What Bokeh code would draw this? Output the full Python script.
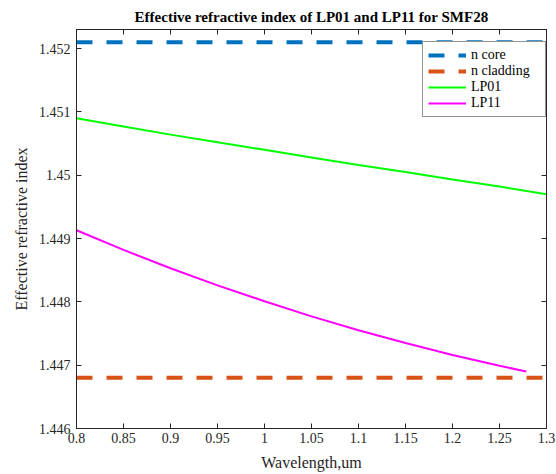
from bokeh.plotting import figure
from bokeh.models import Range1d, FixedTicker, LinearAxis, Legend, LegendItem
from bokeh.embed import file_html
from bokeh.resources import INLINE

# ---- data ----
wl_span = [0.8, 1.3]
n_core = 1.4521
n_clad = 1.4468

wl_lp01 = [0.8, 0.85, 0.9, 0.95, 1.0, 1.05, 1.1, 1.15, 1.2, 1.25, 1.3]
n_lp01 = [1.45090, 1.45077, 1.45064, 1.45052, 1.45040, 1.45028, 1.45016,
          1.45005, 1.44993, 1.44982, 1.44970]

wl_lp11 = [0.8, 0.85, 0.9, 0.95, 1.0, 1.05, 1.1, 1.15, 1.2, 1.25, 1.2785]
n_lp11 = [1.44913, 1.44882, 1.44853, 1.44826, 1.44801, 1.44777, 1.44755,
          1.44735, 1.44716, 1.44699, 1.44690]

x_ticks = [0.8, 0.85, 0.9, 0.95, 1.0, 1.05, 1.1, 1.15, 1.2, 1.25, 1.3]
x_tick_labels = ["0.8", "0.85", "0.9", "0.95", "1", "1.05", "1.1", "1.15", "1.2", "1.25", "1.3"]
y_ticks = [1.446, 1.447, 1.448, 1.449, 1.45, 1.451, 1.452]
y_tick_labels = ["1.446", "1.447", "1.448", "1.449", "1.45", "1.451", "1.452"]

title_text = "Effective refractive index of LP01 and LP11 for SMF28"
x_label = "Wavelength,um"
y_label = "Effective refractive index"
series_names = ["n core", "n cladding", "LP01", "LP11"]

# ---- styling ----
FONT = "Liberation Serif"
AX = "#262626"
C_CORE = "#0072BD"
C_CLAD = "#D95319"
C_LP01 = "#00FF00"
C_LP11 = "#FF00FF"

p = figure(width=556, height=474, output_backend="svg", toolbar_location=None,
           x_range=Range1d(0.8, 1.3), y_range=Range1d(1.446, 1.4523),
           min_border_left=76, min_border_right=10, min_border_top=29,
           min_border_bottom=46, title=title_text)
p.background_fill_color = "white"
p.border_fill_color = "white"
p.outline_line_color = AX
p.outline_line_width = 1
p.grid.visible = False

p.title.text_font = FONT
p.title.text_font_size = "15px"
p.title.text_font_style = "bold"
p.title.text_color = "black"
p.title.align = "center"

def style_axis(ax, show_labels, ticks, labels):
    ax.ticker = FixedTicker(ticks=ticks)
    ax.major_label_overrides = {t: l for t, l in zip(ticks, labels)}
    ax.major_tick_in = 5
    ax.major_tick_out = 0
    ax.minor_tick_in = 0
    ax.minor_tick_out = 0
    ax.axis_line_color = AX
    ax.major_tick_line_color = AX
    ax.major_label_text_font = FONT
    ax.major_label_text_font_size = "14px"
    ax.major_label_text_color = AX
    ax.axis_label_text_font = FONT
    ax.axis_label_text_font_size = "16px"
    ax.axis_label_text_font_style = "normal"
    ax.axis_label_text_color = AX
    if not show_labels:
        ax.major_label_text_font_size = "0px"
        ax.major_label_text_alpha = 0
        ax.major_label_standoff = 0

style_axis(p.xaxis[0], True, x_ticks, x_tick_labels)
style_axis(p.yaxis[0], True, y_ticks, y_tick_labels)
p.xaxis[0].axis_label = x_label
p.yaxis[0].axis_label = y_label
p.xaxis[0].major_label_standoff = 4
p.yaxis[0].major_label_standoff = 6
p.xaxis[0].axis_label_standoff = 8
p.yaxis[0].axis_label_standoff = 6

top_ax = LinearAxis()
right_ax = LinearAxis()
style_axis(top_ax, False, x_ticks, x_tick_labels)
style_axis(right_ax, False, y_ticks, y_tick_labels)
p.add_layout(top_ax, "above")
p.add_layout(right_ax, "right")

r_core = p.line([wl_span[0], wl_span[1]], [n_core, n_core], color=C_CORE,
                line_width=4, line_dash="16 14")
r_clad = p.line([wl_span[0], wl_span[1]], [n_clad, n_clad], color=C_CLAD,
                line_width=4, line_dash="16 14")
r_01 = p.line(wl_lp01, n_lp01, color=C_LP01, line_width=2)
r_11 = p.line(wl_lp11, n_lp11, color=C_LP11, line_width=2)

legend = Legend(items=[LegendItem(label=series_names[0], renderers=[r_core]),
                       LegendItem(label=series_names[1], renderers=[r_clad]),
                       LegendItem(label=series_names[2], renderers=[r_01]),
                       LegendItem(label=series_names[3], renderers=[r_11])],
                location=(346, 311))
legend.label_text_font = FONT
legend.label_text_font_size = "14px"
legend.label_text_color = "black"
legend.glyph_width = 38
legend.glyph_height = 14
legend.label_height = 14
legend.label_width = 69
legend.spacing = 0
legend.padding = 5
legend.margin = 0
legend.label_standoff = 5
legend.border_line_color = AX
legend.border_line_width = 1
legend.background_fill_color = "white"
legend.background_fill_alpha = 1
p.add_layout(legend)

open("out.html", "w").write(file_html(p, INLINE))
